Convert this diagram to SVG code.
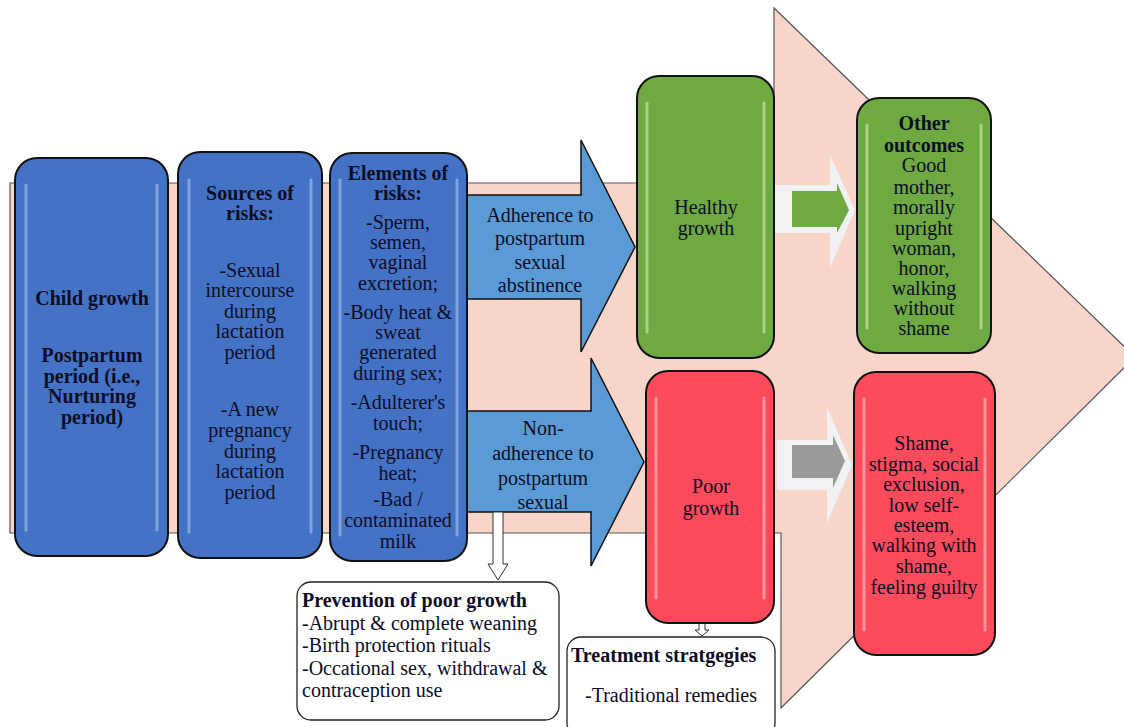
<svg xmlns="http://www.w3.org/2000/svg" width="1124" height="727" viewBox="0 0 1124 727" font-family="'Liberation Serif', 'DejaVu Serif', serif">
<defs>
<style>
text{font-family:'Liberation Serif','DejaVu Serif',serif}
.t{font-size:20px;fill:#0d0d26;text-anchor:middle}
.b{font-weight:bold}
.l{text-anchor:start}
.blue{fill:#4472C4;stroke:#111;stroke-width:2}
.green{fill:#6EA942;stroke:#111;stroke-width:2}
.red{fill:#FD4B5B;stroke:#111;stroke-width:2}
.hl{fill:none;stroke-width:3;stroke-linecap:round;opacity:0.6}
.hb{stroke:#a9c4f2}
.hg{stroke:#d4f0b8}
.hr{stroke:#ffc4c9}
.barrow{fill:#5B9BD5;stroke:#111;stroke-width:1.5}
.wbox{fill:#fff;stroke:#222;stroke-width:1.3}
</style>
</defs>
<rect width="1124" height="727" fill="#fff"/>
<g id="background-arrow">
<polygon points="10,183 774,183 774,8 1135,357 781,708 781,533 10,533" fill="#F8D5C9" stroke="#555" stroke-width="1.2"/>
</g>
<g id="connectors">
<polygon class="barrow" points="467,195 581,195 581,140 635,247 581,352 581,299 467,299"/>
<polygon class="barrow" points="467,411 591,411 591,358 644,462 591,566 591,512 467,512"/>
<polygon points="774,185 830,185 830,155 855,210 830,268 830,233 774,233" fill="#f1f2f4"/>
<polygon points="792,191 837,191 837,183 849,210 837,233 837,227 792,227" fill="#6EA942"/>
<polygon points="777,440 827,440 827,407 852,465 827,523 827,490 777,490" fill="#f1f2f4"/>
<polygon points="792,445 833,445 833,435 845,461 833,488 833,478 792,478" fill="#9a9a9a"/>
<polygon points="493,512 503,512 503,564 508,564 498,580 488,564 493,564" fill="#fff" stroke="#333" stroke-width="1"/>
<polygon points="699,623 705,623 705,630 709,630 702,636 695,630 699,630" fill="#fff" stroke="#333" stroke-width="1"/>
</g>
<g id="child-growth">
<rect class="blue" x="15" y="158" width="153" height="398" rx="22"/>
<path class="hl hb" d="M26,185 V530 M157,185 V530"/>
<text class="t b" x="92" y="305">Child growth</text>
<text class="t b" x="92" y="362">Postpartum</text>
<text class="t b" x="92" y="383">period (i.e.,</text>
<text class="t b" x="92" y="403">Nurturing</text>
<text class="t b" x="92" y="424">period)</text>
</g>
<g id="sources">
<rect class="blue" x="178" y="152" width="144" height="406" rx="22"/>
<path class="hl hb" d="M189,180 V532 M311,180 V532"/>
<text class="t b" x="250" y="200">Sources of</text>
<text class="t b" x="250" y="220">risks:</text>
<text class="t" x="250" y="277">-Sexual</text>
<text class="t" x="250" y="297">intercourse</text>
<text class="t" x="250" y="318">during</text>
<text class="t" x="250" y="338">lactation</text>
<text class="t" x="250" y="359">period</text>
<text class="t" x="250" y="416">-A new</text>
<text class="t" x="250" y="437">pregnancy</text>
<text class="t" x="250" y="458">during</text>
<text class="t" x="250" y="478">lactation</text>
<text class="t" x="250" y="499">period</text>
</g>
<g id="elements">
<rect class="blue" x="330" y="153" width="137" height="408" rx="22"/>
<path class="hl hb" d="M340,180 V535 M457,180 V535"/>
<text class="t b" x="398" y="180">Elements of</text>
<text class="t b" x="398" y="200">risks:</text>
<text class="t" x="398" y="229">-Sperm,</text>
<text class="t" x="398" y="249">semen,</text>
<text class="t" x="398" y="269">vaginal</text>
<text class="t" x="398" y="290">excretion;</text>
<text class="t" x="398" y="319">-Body heat &amp;</text>
<text class="t" x="398" y="339">sweat</text>
<text class="t" x="398" y="359">generated</text>
<text class="t" x="398" y="380">during sex;</text>
<text class="t" x="398" y="409">-Adulterer's</text>
<text class="t" x="398" y="430">touch;</text>
<text class="t" x="398" y="459">-Pregnancy</text>
<text class="t" x="398" y="480">heat;</text>
<text class="t" x="398" y="506">-Bad /</text>
<text class="t" x="398" y="527">contaminated</text>
<text class="t" x="398" y="548">milk</text>
</g>
<g id="adherence-label">
<text class="t" x="540" y="222">Adherence to</text>
<text class="t" x="540" y="245">postpartum</text>
<text class="t" x="540" y="269">sexual</text>
<text class="t" x="540" y="292">abstinence</text>
</g>
<g id="non-adherence-label">
<text class="t" x="543" y="435">Non-</text>
<text class="t" x="543" y="460">adherence to</text>
<text class="t" x="543" y="485">postpartum</text>
<text class="t" x="543" y="509">sexual</text>
</g>
<g id="healthy-growth">
<rect class="green" x="637" y="76" width="137" height="282" rx="22"/>
<path class="hl hg" d="M647,103 V332 M764,103 V332"/>
<text class="t" x="706" y="214">Healthy</text>
<text class="t" x="706" y="235">growth</text>
</g>
<g id="poor-growth">
<rect class="red" x="646" y="371" width="128" height="252" rx="22"/>
<path class="hl hr" d="M656,398 V598 M764,398 V598"/>
<text class="t" x="711" y="493">Poor</text>
<text class="t" x="711" y="515">growth</text>
</g>
<g id="other-outcomes">
<rect class="green" x="857" y="98" width="134" height="255" rx="22"/>
<path class="hl hg" d="M867,125 V328 M981,125 V328"/>
<text class="t b" x="924" y="130">Other</text>
<text class="t b" x="924" y="152">outcomes</text>
<text class="t" x="924" y="172">Good</text>
<text class="t" x="924" y="194">mother,</text>
<text class="t" x="924" y="214">morally</text>
<text class="t" x="924" y="235">upright</text>
<text class="t" x="924" y="255">woman,</text>
<text class="t" x="924" y="275">honor,</text>
<text class="t" x="924" y="295">walking</text>
<text class="t" x="924" y="315">without</text>
<text class="t" x="924" y="335">shame</text>
</g>
<g id="negative-outcomes">
<rect class="red" x="854" y="372" width="141" height="283" rx="22"/>
<path class="hl hr" d="M864,399 V630 M985,399 V630"/>
<text class="t" x="924" y="450">Shame,</text>
<text class="t" x="924" y="471">stigma, social</text>
<text class="t" x="924" y="491">exclusion,</text>
<text class="t" x="924" y="512">low self-</text>
<text class="t" x="924" y="532">esteem,</text>
<text class="t" x="924" y="552">walking with</text>
<text class="t" x="924" y="573">shame,</text>
<text class="t" x="924" y="594">feeling guilty</text>
</g>
<g id="prevention">
<rect class="wbox" x="297" y="582" width="262" height="138" rx="14"/>
<text class="t b l" x="302" y="607">Prevention of poor growth</text>
<text class="t l" x="302" y="630">-Abrupt &amp; complete  weaning</text>
<text class="t l" x="302" y="652">-Birth protection rituals</text>
<text class="t l" x="302" y="675">-Occational sex, withdrawal &amp;</text>
<text class="t l" x="302" y="697">contraception use</text>
</g>
<g id="treatment">
<rect class="wbox" x="567" y="637" width="208" height="100" rx="14"/>
<text class="t b l" x="571" y="662">Treatment stratgegies</text>
<text class="t l" x="585" y="702">-Traditional remedies</text>
</g>
</svg>
